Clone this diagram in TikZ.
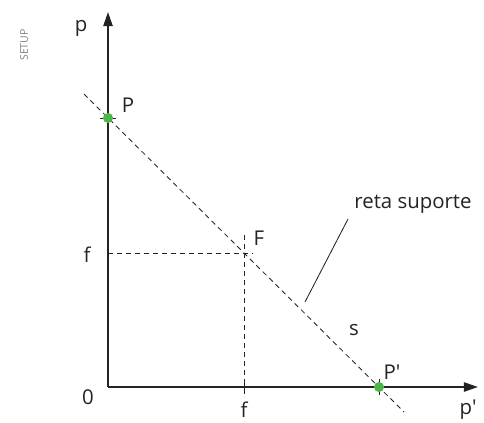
\documentclass[tikz,border=0pt]{standalone}
\usepackage{fontspec}
\setmainfont{Open Sans}
\usetikzlibrary{arrows.meta}

\definecolor{ptgreen}{RGB}{78,182,72}
\definecolor{inkgray}{RGB}{35,35,35}

\tikzset{
  axisline/.style={draw=inkgray, line width=1.4pt, -{Triangle[length=10pt,width=6.5pt]}},
  guide/.style={draw=inkgray, line width=0.6pt, dash pattern=on 3.6pt off 2.8pt},
  tick/.style={draw=inkgray, line width=0.6pt},
  lbl/.style={inner sep=0pt, font=\fontsize{14.5}{16}\selectfont, text=inkgray},
  dot/.style={fill=ptgreen}
}

\begin{document}
\begin{tikzpicture}[x=0.025cm, y=-0.025cm]
  \useasboundingbox (0,0) rectangle (484,422);

  \coordinate (O) at (108, 387);
  \coordinate (Ytop) at (108, 12);
  \coordinate (Xend) at (478, 387);
  \coordinate (P) at (108, 118);
  \coordinate (Q) at (379, 387);
  \coordinate (F) at (244, 253);
  \coordinate (Fy) at (108, 253);
  \coordinate (Fr) at (253, 253);
  \coordinate (Ft) at (244, 235);
  \coordinate (Fb) at (244, 397);
  \coordinate (S1) at (84, 94);
  \coordinate (S2) at (404, 412);
  \coordinate (R1) at (348, 219);
  \coordinate (R2) at (305, 302);

  % eixos
  \draw[axisline] (O) -- (Ytop);
  \draw[axisline] (O) -- (Xend);

  % reta suporte e linhas de chamada
  \draw[guide] (S1) -- (S2);
  \draw[guide] (Fy) -- (Fr);
  \draw[guide] (Ft) -- (Fb);
  \draw[inkgray, line width=0.6pt] (R1) -- (R2);

  % marcas
  \draw[tick] (100, 118) -- (116, 118);
  \draw[tick] (379, 379) -- (379, 395);
  \draw[tick] (244, 380) -- (244, 394);

  % pontos
  \fill[dot] (P) circle (3.6pt);
  \fill[dot] (Q) circle (3.6pt);

  \node[lbl] (lp) at (81, 28) {p};
  \node[lbl] (lP) at (128, 105) {P};
  \node[lbl] (lQ) at (392, 372) {P\textquotesingle};
  \node[lbl] (lO) at (88, 397) {0};
  \node[lbl] (lfy) at (87, 255) {f};
  \node[lbl, anchor=north] (lfx) at (244, 402) {f};
  \node[lbl] (lpp) at (468, 410) {p\textquotesingle};
  \node[lbl] (lF) at (259, 238) {F};
  \node[lbl] (ls) at (354, 330) {s};
  \node[lbl, anchor=base] (lr) at (413, 208) {reta suporte};
  \node[inner sep=0pt, rotate=90, text=gray, font=\fontsize{7.5}{8}\selectfont] (setup) at (24, 45) {SETUP};
\end{tikzpicture}
\end{document}
